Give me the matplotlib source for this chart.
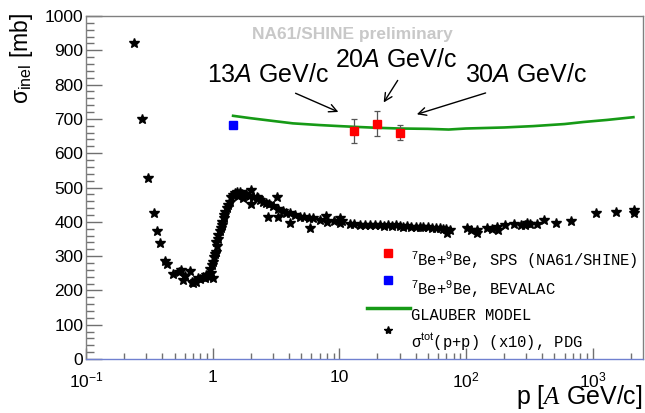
import matplotlib
matplotlib.use("Agg")
import matplotlib.pyplot as plt
from matplotlib.lines import Line2D
from matplotlib.legend_handler import HandlerLine2D
from matplotlib.ticker import FixedLocator, FixedFormatter, MultipleLocator

plt.rcParams['font.family'] = ['Liberation Sans', 'DejaVu Sans']
plt.rcParams['mathtext.fontset'] = 'custom'
plt.rcParams['mathtext.rm'] = 'Liberation Sans'
plt.rcParams['mathtext.it'] = 'Liberation Sans:italic'
plt.rcParams['mathtext.cal'] = 'Liberation Serif:italic'

# ---------------- data ----------------
# NA61/SHINE 7Be+9Be inelastic cross sections
sps_p = [13.0, 20.0, 30.0]
sps_sigma = [665, 686, 660]
sps_err = [36, 37, 22]

# BEVALAC
bev_p = [1.45]
bev_sigma = [682]

# Glauber model
glauber_p = [1.45, 2.0, 3.0, 4.3, 7.0, 10.0, 13.0, 20.0, 30.0, 50.0, 73.0,
             100.0, 200.0, 340.0, 600.0, 850.0, 1300.0, 2100.0]
glauber_sigma = [709, 702, 694, 687, 682, 679, 677, 674, 672, 671, 669,
                 672, 675, 679, 685, 691, 697, 705]

# PDG sigma_tot(p+p) x10
pdg_p = [0.238, 0.278, 0.306, 0.345, 0.365, 0.387, 0.424, 0.434, 0.485, 0.54,
         0.565, 0.60, 0.58, 0.657, 0.69, 0.70, 0.72, 0.743, 0.764, 0.80,
         0.837, 0.863, 0.88, 0.917, 0.94, 0.97, 1.0, 0.96, 0.98, 1.0,
         1.03, 1.05, 1.07, 1.08, 1.07, 1.10, 1.11, 1.14, 1.17, 1.18,
         1.19, 1.22, 1.24, 1.26, 1.29, 1.32, 1.37, 1.40, 1.45, 1.49,
         1.55, 1.63, 1.58, 1.70, 1.79, 1.85, 1.75, 1.95, 2.02, 2.02,
         2.1, 2.22, 2.3, 2.37, 2.5, 2.66, 2.75, 2.8, 3.0, 3.2,
         3.3, 3.3, 3.6, 3.8, 4.1, 4.1, 4.5, 4.9, 5.3, 5.8,
         5.9, 6.2, 7.0, 7.8, 8.0, 9.0, 10.1, 10.1, 10.5, 12.1,
         13.0, 14.6, 16.0, 17.5, 19.0, 21.0, 22.5, 24.2, 26.0, 28.0,
         30.0, 32.0, 34.0, 37.0, 40.0, 43.0, 46.0, 50.0, 54.0, 58.0,
         62.0, 66.0, 70.0, 71.0, 75.0, 102.0, 110.0, 122.0, 122.0, 147.0,
         160.0, 176.0, 180.0, 204.0, 240.0, 270.0, 295.0, 305.0, 320.0, 365.0,
         410.0, 515.0, 675.0, 1065.0, 1530.0, 2120.0, 2120.0]
pdg_sigma = [920, 700, 528, 425, 373, 339, 286, 276, 247, 253,
             259, 243, 230, 257, 224, 222, 226, 225, 235, 232,
             240, 235, 246, 245, 238, 250, 235, 262, 274, 284,
             298, 305, 313, 330, 342, 350, 361, 372, 381, 392,
             400, 410, 420, 430, 439, 450, 459, 473, 478, 483,
             486, 487, 475, 480, 478, 482, 470, 476, 493, 451,
             472, 473, 468, 464, 459, 454, 413, 452, 445, 473,
             438, 415, 432, 425, 425, 396, 420, 415, 413, 410,
             381, 410, 405, 418, 400, 402, 410, 396, 402, 393,
             395, 391, 392, 391, 390, 391, 389, 391, 388, 390,
             388, 386, 387, 385, 386, 384, 385, 384, 382, 383,
             381, 380, 378, 366, 376, 382, 376, 376, 367, 382,
             380, 386, 375, 391, 394, 392, 391, 397, 393, 395,
             405, 397, 403, 425, 428, 434, 425]

xtick_vals = [0.1, 1, 10, 100, 1000]
xtick_labels = [r'$10^{-1}$', '1', '10', r'$10^{2}$', r'$10^{3}$']
ytick_vals = [0, 100, 200, 300, 400, 500, 600, 700, 800, 900, 1000]

legend_labels = [r'$^{7}$Be+$^{9}$Be, SPS (NA61/SHINE)',
                 r'$^{7}$Be+$^{9}$Be, BEVALAC',
                 'GLAUBER MODEL',
                 r'σ$^{\rm tot}$(p+p) (x10), PDG']


class RaisedHandler(HandlerLine2D):
    """Legend handle drawn slightly above the text centre (as in ROOT)."""
    def __init__(self, shift, **kw):
        super().__init__(**kw)
        self.shift = shift

    def create_artists(self, legend, orig_handle, xdescent, ydescent,
                       width, height, fontsize, trans):
        return super().create_artists(legend, orig_handle, xdescent,
                                      ydescent - self.shift, width, height,
                                      fontsize, trans)


# ---------------- figure ----------------
W, H = 645, 413
fig = plt.figure(figsize=(W / 100, H / 100), dpi=100)
ax = fig.add_axes([86 / W, 1 - 359 / H, (643 - 86) / W, (359 - 16) / H])

ax.set_xscale('log')
ax.set_xlim(0.1, 2500)
ax.set_ylim(0, 1000)

green = '#169a16'
ax.plot(glauber_p, glauber_sigma, color=green, lw=1.9, zorder=3)
ax.plot(pdg_p, pdg_sigma, ls='none', marker='*', ms=7, color='black',
        mec='black', zorder=2)
ax.plot(bev_p, bev_sigma, ls='none', marker='s', ms=5.5, color='#0000ff',
        mec='#0000ff', zorder=4)
ax.errorbar(sps_p, sps_sigma, yerr=sps_err, fmt='s', ms=5.5, color='#ff0000',
            mec='#ff0000', ecolor='#555555', elinewidth=0.9, capsize=2,
            capthick=0.9, zorder=4)

# axes styling
for s in ['left', 'top', 'right']:
    ax.spines[s].set_color('#808080')
    ax.spines[s].set_linewidth(1.0)
ax.spines['bottom'].set_color('#7080d0')
ax.spines['bottom'].set_linewidth(1.0)

ax.xaxis.set_major_locator(FixedLocator(xtick_vals))
ax.xaxis.set_major_formatter(FixedFormatter(xtick_labels))
ax.yaxis.set_major_locator(FixedLocator(ytick_vals))
ax.yaxis.set_minor_locator(MultipleLocator(20))
ax.tick_params(axis='both', which='both', direction='in', colors='#707070',
               labelcolor='black', labelsize=12.5)
ax.tick_params(axis='y', which='major', length=11.5, width=1, pad=2)
ax.tick_params(axis='y', which='minor', length=6, width=1)
ax.tick_params(axis='x', which='major', length=7.7, width=1, pad=8)
ax.tick_params(axis='x', which='minor', length=4, width=1)
ax.tick_params(axis='x', which='minor', labelbottom=False)

# labels
fig.text(0.997, 0.004, r'p [$\mathcal{A}$ GeV/c]', ha='right', va='bottom',
         fontsize=18)
fig.text(0.034, 1 - 13 / H, r'σ$_{\rm inel}$ [mb]', rotation=90, ha='center',
         va='top', fontsize=16.5)

# watermark
fig.text(352 / W, 1 - 35 / H, 'NA61/SHINE preliminary', ha='center',
         va='center', fontsize=12.5, fontweight='bold', color='#c8c8c8')

# energy annotations
ann = [('13$A$ GeV/c', (2.73, 828), (4.31, 778), (10.3, 717)),
       ('20$A$ GeV/c', (28.1, 872), (29.7, 819), (21.8, 741)),
       ('30$A$ GeV/c', (301.0, 828), (150.0, 778), (39.0, 711))]
for txt, tpos, tail, head in ann:
    ax.text(tpos[0], tpos[1], txt, ha='center', va='center', fontsize=18)
    ax.annotate('', xy=head, xytext=tail,
                arrowprops=dict(arrowstyle='->', color='black', lw=1.0,
                                mutation_scale=14))

# legend
h_sps = Line2D([], [], ls='none', marker='s', ms=5.5, color='#ff0000')
h_bev = Line2D([], [], ls='none', marker='s', ms=5.5, color='#0000ff')
h_gla = Line2D([], [], color=green, lw=2.5)
h_pdg = Line2D([], [], ls='none', marker='*', ms=6, color='black')
handles = [h_sps, h_bev, h_gla, h_pdg]
leg = ax.legend(handles, legend_labels, loc='lower left',
                bbox_to_anchor=((367 - 86) / (643 - 86), (359 - 352) / 343),
                frameon=False, prop={'family': 'Liberation Mono', 'size': 11.2},
                handlelength=2.75, handletextpad=0.1, labelspacing=0.5,
                borderpad=0, borderaxespad=0,
                handler_map={h_sps: RaisedHandler(11),
                             h_bev: RaisedHandler(14.5),
                             h_gla: RaisedHandler(9.5),
                             h_pdg: RaisedHandler(16)})

fig.savefig('out.png', dpi=100)
